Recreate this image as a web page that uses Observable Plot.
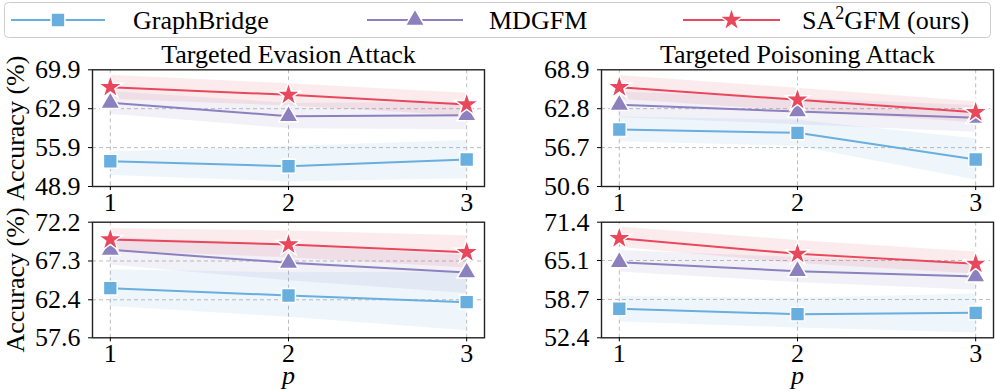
<!DOCTYPE html>
<html><head><meta charset="utf-8">
<script src="https://cdn.jsdelivr.net/npm/d3@7"></script>
<script src="https://cdn.jsdelivr.net/npm/@observablehq/plot@0.6"></script>
<style>
html,body{margin:0;padding:0;background:#fff;}
#chart{position:relative;width:996px;height:391px;overflow:hidden;font-family:"Liberation Serif","Times New Roman",serif;}
#chart svg{position:absolute;overflow:visible;background:transparent;}
</style></head>
<body><div id="chart"></div>
<script>
// ---------- data ----------
const pValues = [1, 2, 3];
const seriesNames = ["GraphBridge", "MDGFM", "SA2GFM (ours)"];
const titles = ["Targeted Evasion Attack", "Targeted Poisoning Attack"];

// Row 1, Targeted Evasion Attack
const evasion1Ticks = [48.9, 55.9, 62.9, 69.9];
const evasion1GB = [53.45, 52.55, 53.76];
const evasion1GBLo = [50.9, 49.7, 50.3];
const evasion1GBHi = [55.1, 56.1, 57.2];
const evasion1MD = [63.96, 61.55, 61.73];
const evasion1MDLo = [61.9, 59.3, 59.1];
const evasion1MDHi = [66.0, 63.9, 64.0];
const evasion1SA = [66.77, 65.4, 63.66];
const evasion1SALo = [64.6, 63.4, 61.6];
const evasion1SAHi = [68.9, 67.4, 65.7];

// Row 1, Targeted Poisoning Attack
const poison1Ticks = [50.6, 56.7, 62.8, 68.9];
const poison1GB = [59.54, 59.02, 54.83];
const poison1GBLo = [57.6, 56.9, 51.6];
const poison1GBHi = [61.5, 61.0, 58.1];
const poison1MD = [63.41, 62.36, 61.37];
const poison1MDLo = [61.4, 60.3, 59.1];
const poison1MDHi = [65.4, 64.4, 63.3];
const poison1SA = [66.17, 64.2, 62.25];
const poison1SALo = [64.3, 62.4, 60.6];
const poison1SAHi = [68.0, 66.0, 63.9];

// Row 2, Targeted Evasion Attack
const evasion2Ticks = [57.6, 62.4, 67.3, 72.2];
const evasion2GB = [63.87, 62.94, 62.1];
const evasion2GBLo = [61.55, 60.2, 58.5];
const evasion2GBHi = [66.2, 65.8, 65.9];
const evasion2MD = [68.71, 67.07, 65.85];
const evasion2MDLo = [66.8, 64.8, 63.2];
const evasion2MDHi = [70.3, 69.3, 68.0];
const evasion2SA = [70.02, 69.38, 68.41];
const evasion2SALo = [68.6, 67.7, 66.4];
const evasion2SAHi = [71.4, 71.1, 70.5];

// Row 2, Targeted Poisoning Attack
const poison2Ticks = [52.4, 58.7, 65.1, 71.4];
const poison2GB = [57.17, 56.28, 56.5];
const poison2GBLo = [55.0, 54.0, 53.2];
const poison2GBHi = [59.2, 58.9, 59.6];
const poison2MD = [64.83, 63.35, 62.48];
const poison2MDLo = [63.2, 61.5, 60.2];
const poison2MDHi = [66.75, 65.6, 64.6];
const poison2SA = [68.77, 66.2, 64.56];
const poison2SALo = [67.3, 64.6, 62.9];
const poison2SAHi = [70.6, 68.4, 66.5];

// ---------- style ----------
const colors = ["#68aede", "#8c80bf", "#e8475c"];
const symbols = ["square", "triangle", "star"];
const radii = [7.8, 7.2, 7.6];
const FONT = "Liberation Serif, Times New Roman, serif";
const FS = 26;

const chart = document.getElementById("chart");

function makeSeries(v, lo, hi) { return {v, lo, hi}; }

function panel({ticks, series, title, bottom, left, top, width, height, mL, mR, mT, mB}) {
  const marks = [
    Plot.gridX({ticks: pValues, stroke: "#bdbdbd", strokeOpacity: 1, strokeWidth: 1, strokeDasharray: "4,3"}),
    Plot.gridY({ticks: ticks.slice(1, -1), stroke: "#bdbdbd", strokeOpacity: 1, strokeWidth: 1, strokeDasharray: "4,3"})
  ];
  const rows = series.map((s, i) => pValues.map((p, j) => ({p, v: s.v[j], lo: s.lo[j], hi: s.hi[j], k: i})));
  rows.forEach((d, i) => marks.push(Plot.areaY(d, {x: "p", y1: "lo", y2: "hi", fill: colors[i], fillOpacity: 0.11})));
  rows.forEach((d, i) => {
    marks.push(Plot.lineY(d, {x: "p", y: "v", stroke: colors[i], strokeWidth: 2}));
    marks.push(Plot.dot(d, {x: "p", y: "v", symbol: symbols[i], r: radii[i], fill: colors[i], stroke: "white", strokeWidth: 1.5}));
  });
  marks.push(Plot.frame({stroke: "#222", strokeWidth: 1.4}));
  marks.push(Plot.axisX({ticks: pValues, tickFormat: d3.format("d"), tickSize: 4, tickPadding: 2, label: null, fontSize: FS}));
  marks.push(Plot.axisY({ticks, tickFormat: d3.format(".1f"), tickSize: 4, tickPadding: 8, label: null, fontSize: FS}));
  if (title) marks.push(Plot.text([title], {text: d => d, frameAnchor: "top", lineAnchor: "middle", textAnchor: "middle", dy: -15, fontSize: FS}));
  if (left === 0) marks.push(Plot.text(["Accuracy (%)"], {text: d => d, frameAnchor: "left", lineAnchor: "middle", textAnchor: "middle", rotate: -90, dx: -77, fontSize: FS}));
  if (bottom) marks.push(Plot.text(["p"], {text: d => d, frameAnchor: "bottom", lineAnchor: "middle", textAnchor: "middle", dy: 38, fontSize: FS, fontStyle: "italic"}));
  const svg = Plot.plot({
    width, height, marginLeft: mL, marginRight: mR, marginTop: mT, marginBottom: mB,
    x: {domain: [0.9, 3.1], label: null},
    y: {domain: [ticks[0], ticks[ticks.length - 1]], label: null},
    style: {fontFamily: FONT, fontSize: FS + "px", color: "black", background: "transparent", overflow: "visible"},
    marks
  });
  svg.style.left = left + "px";
  svg.style.top = top + "px";
  chart.appendChild(svg);
}

const L = {left: 0, width: 495, mL: 92, mR: 11};
const R = {left: 495, width: 501, mL: 106, mR: 3};
const T = {top: 40, height: 172, mT: 29.3, mB: 26};
const B = {top: 212, height: 179, mT: 9.7, mB: 53.7};

// legend first so the panels' texts can sit above it
const leg = d3.select(chart).append("svg").attr("width", 996).attr("height", 42)
  .style("left", "0px").style("top", "0px").style("font-family", FONT);
leg.append("rect").attr("x", 4.5).attr("y", 2.5).attr("width", 986).attr("height", 35).attr("rx", 4)
  .attr("fill", "white").attr("stroke", "#cccccc").attr("stroke-width", 1);
const legLine = [[11, 105], [367, 463], [683, 780]];
const legText = [133, 489, 802];
const d3sym = {square: d3.symbolSquare, triangle: d3.symbolTriangle, star: d3.symbolStar};
seriesNames.forEach((name, i) => {
  const g = leg.append("g");
  const [x0, x1] = legLine[i];
  g.append("line").attr("x1", x0).attr("x2", x1).attr("y1", 20).attr("y2", 20).attr("stroke", colors[i]).attr("stroke-width", 2);
  g.append("path").attr("transform", `translate(${(x0 + x1) / 2},20)`)
    .attr("d", d3.symbol(d3sym[symbols[i]], Math.PI * radii[i] * radii[i])())
    .attr("fill", colors[i]).attr("stroke", "white").attr("stroke-width", 1.5);
  const t = g.append("text").attr("x", legText[i]).attr("y", 29).attr("font-size", FS).attr("fill", "black");
  if (name.startsWith("SA2")) {
    t.append("tspan").text("SA");
    t.append("tspan").text("2").attr("font-size", 18).attr("dy", -10);
    t.append("tspan").text("GFM (ours)").attr("dy", 10);
  } else {
    t.text(name);
  }
});

panel({...L, ...T, ticks: evasion1Ticks, title: titles[0], bottom: false,
  series: [makeSeries(evasion1GB, evasion1GBLo, evasion1GBHi), makeSeries(evasion1MD, evasion1MDLo, evasion1MDHi), makeSeries(evasion1SA, evasion1SALo, evasion1SAHi)]});
panel({...R, ...T, ticks: poison1Ticks, title: titles[1], bottom: false,
  series: [makeSeries(poison1GB, poison1GBLo, poison1GBHi), makeSeries(poison1MD, poison1MDLo, poison1MDHi), makeSeries(poison1SA, poison1SALo, poison1SAHi)]});
panel({...L, ...B, ticks: evasion2Ticks, title: null, bottom: true,
  series: [makeSeries(evasion2GB, evasion2GBLo, evasion2GBHi), makeSeries(evasion2MD, evasion2MDLo, evasion2MDHi), makeSeries(evasion2SA, evasion2SALo, evasion2SAHi)]});
panel({...R, ...B, ticks: poison2Ticks, title: null, bottom: true,
  series: [makeSeries(poison2GB, poison2GBLo, poison2GBHi), makeSeries(poison2MD, poison2MDLo, poison2MDHi), makeSeries(poison2SA, poison2SALo, poison2SAHi)]});
</script>
</body></html>
